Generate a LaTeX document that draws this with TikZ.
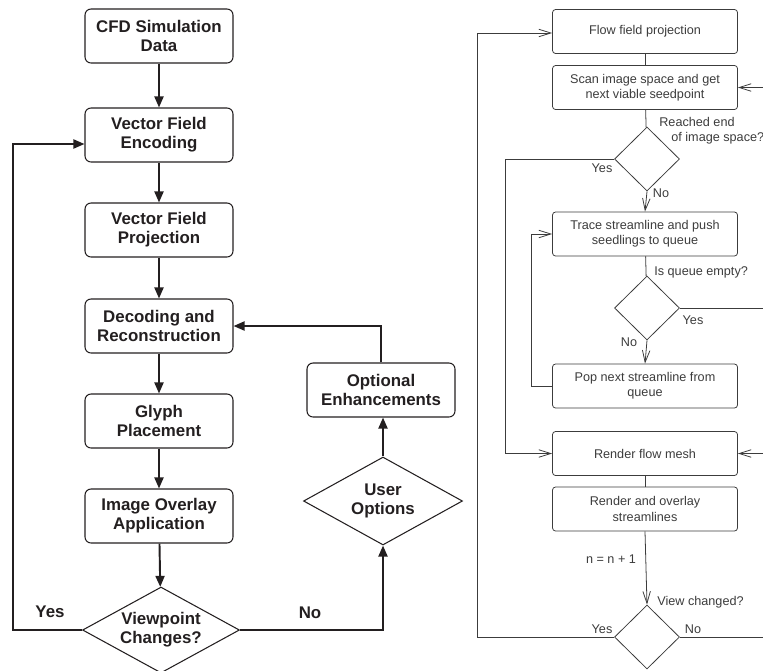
\documentclass[tikz,border=0pt]{standalone}
\usepackage{fontspec}
\setmainfont{Liberation Sans}
\usetikzlibrary{arrows.meta,shapes.geometric}
\definecolor{ink}{RGB}{35,31,32}
\definecolor{greyline}{RGB}{60,60,60}
\tikzset{
  stagebox/.style={draw=ink, line width=0.6pt, rounded corners=1.2mm, minimum width=2.96cm, minimum height=1.08cm, inner sep=0pt, align=center, text=ink, font=\fontsize{9.6}{10.8}\selectfont\bfseries},
  choice/.style={draw=ink, line width=0.6pt, diamond, aspect=1.83, inner sep=0pt, minimum width=3.14cm, minimum height=1.72cm, align=center, text=ink, font=\fontsize{9.6}{10.8}\selectfont\bfseries},
  thickarr/.style={draw=ink, line width=1.1pt, -{Triangle[length=2.2mm,width=1.8mm]}},
  boldnote/.style={inner sep=0pt, text=ink, font=\fontsize{9.6}{10.8}\selectfont\bfseries},
  stepbox/.style={draw=greyline, line width=0.45pt, rounded corners=0.6mm, minimum width=3.7cm, minimum height=0.88cm, inner sep=0pt, align=center, text=greyline, font=\fontsize{7.2}{8.6}\selectfont},
  test/.style={draw=greyline, line width=0.45pt, diamond, inner sep=0pt, minimum width=1.3cm, minimum height=1.28cm},
  link/.style={draw=greyline, line width=0.45pt},
  barb/.style={link, -{Straight Barb[length=2.4mm,width=1.5mm]}},
  note/.style={inner sep=0pt, text=greyline, font=\fontsize{7.2}{8.6}\selectfont}
}
\begin{document}
\begin{tikzpicture}[x=0.02cm, y=-0.02cm]
  \useasboundingbox (0,0) rectangle (763,670);

  % left chart
  \node[stagebox] (cfd) at (159,36) {CFD Simulation\\Data};
  \node[stagebox] (enc) at (159,135) {Vector Field\\Encoding};
  \node[stagebox] (proj) at (159,230) {Vector Field\\Projection};
  \node[stagebox] (dec) at (159,326) {Decoding and\\Reconstruction};
  \node[stagebox] (glyph) at (159,421) {Glyph\\Placement};
  \node[stagebox] (overlay) at (159,516) {Image Overlay\\Application};
  \node[choice] (vp) at (161,630) {Viewpoint\\Changes?};
  \node[choice, minimum width=3.18cm, minimum height=1.76cm] (uo) at (383,501) {User\\Options};
  \node[stagebox] (opt) at (381,390) {Optional\\Enhancements};

  \coordinate (yesL) at (13,630);
  \node[boldnote] (yesLbl) at (50,612) {Yes};
  \node[boldnote] (noLbl) at (310,613) {No};

  \draw[thickarr] (cfd) -- (enc);
  \draw[thickarr] (enc) -- (proj);
  \draw[thickarr] (proj) -- (dec);
  \draw[thickarr] (dec) -- (glyph);
  \draw[thickarr] (glyph) -- (overlay);
  \draw[thickarr] (overlay) -- (vp);
  \draw[thickarr] (vp.west) -- (yesL) |- ([yshift=-0.18cm]enc.west);
  \draw[thickarr] (vp.east) -| (uo.south);
  \draw[thickarr] (uo.north) -- (uo.north |- opt.south);
  \draw[thickarr] (opt.north) |- (dec.east);

  % right chart
  \node[stepbox] (ffp) at (645,31.5) {Flow field projection};
  \node[stepbox] (scan) at (645,87.5) {Scan image space and get\\next viable seedpoint};
  \node[test] (d1) at (647,159) {};
  \node[stepbox] (trace) at (645,234) {Trace streamline and push\\seedlings to queue};
  \node[test] (d2) at (647,308) {};
  \node[stepbox] (pop) at (645,386) {Pop next streamline from\\queue};
  \node[stepbox] (mesh) at (645,453.5) {Render flow mesh};
  \node[stepbox] (stream) at (645,509) {Render and overlay\\streamlines};
  \node[test] (d3) at (647,637) {};

  \node[note, anchor=north west, align=left] (endLbl) at (659,117) {Reached end\\\hspace*{0.24cm}of image space?};
  \node[note] (yes1) at (602,168) {Yes};
  \node[note] (no1) at (661,193) {No};
  \node[note, anchor=west] (emptyLbl) at (654,272) {Is queue empty?};
  \node[note] (yes2) at (693,320) {Yes};
  \node[note] (no2) at (629,342) {No};
  \node[note] (incr) at (611,559) {n = n + 1};
  \node[note, anchor=west] (viewLbl) at (657,602) {View changed?};
  \node[note] (yes3) at (602,629) {Yes};
  \node[note] (no3) at (693,629) {No};

  \coordinate (outerL) at (477,637);
  \coordinate (yesR) at (505,159);
  \coordinate (loopR) at (531,386);
  \coordinate (edgeA) at (763,87.5);
  \coordinate (edgeB) at (763,308);
  \coordinate (edgeC) at (763,453.5);
  \coordinate (edgeD) at (763,637);

  \draw[link] (ffp) -- (scan);
  \draw[link] (scan) -- (d1);
  \draw[barb] (d1.south) -- (trace.north);
  \draw[link] (trace) -- (d2);
  \draw[barb] (d2.south) -- (pop.north);
  \draw[barb] (pop.west) -- (loopR) |- (trace.west);
  \draw[barb] (d1.west) -- (yesR) |- (mesh.west);
  \draw[link] (mesh) -- (stream);
  \draw[barb] (stream.south) -- (d3.north);
  \draw[barb] (d3.west) -- (outerL) |- ([yshift=-0.03cm]ffp.west);
  \draw[barb] (edgeA) -- (scan.east);
  \draw[link] (d2.east) -- (edgeB);
  \draw[barb] (edgeC) -- (mesh.east);
  \draw[link] (d3.east) -- (edgeD);
\end{tikzpicture}
\end{document}
